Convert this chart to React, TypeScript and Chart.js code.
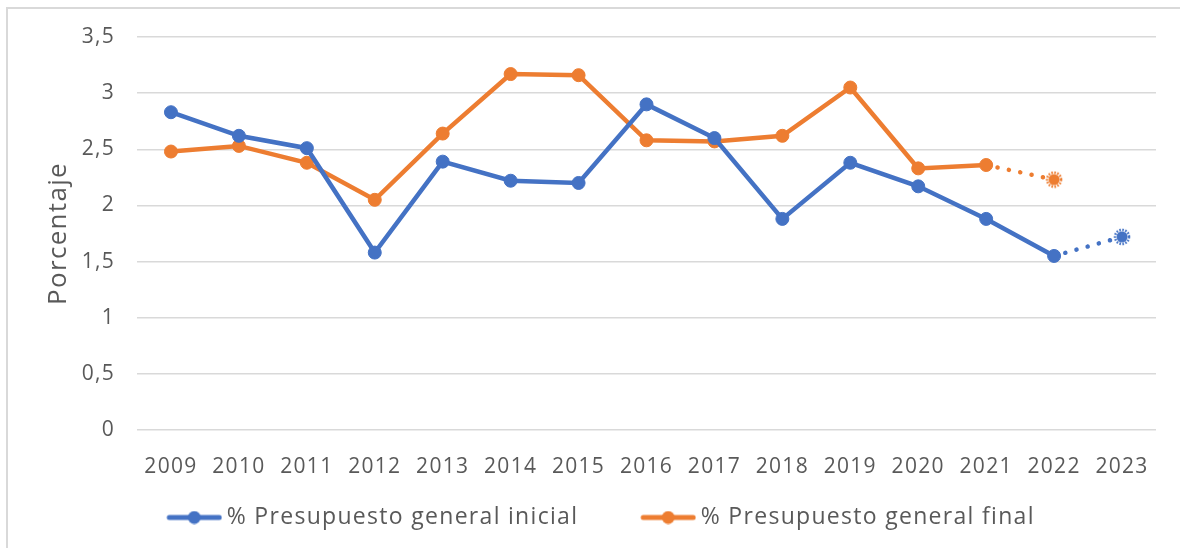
import React, { useEffect, useRef } from "react";
import { Chart, registerables } from "chart.js";

Chart.register(...registerables);

const years = ["2009","2010","2011","2012","2013","2014","2015","2016","2017","2018","2019","2020","2021","2022","2023"];
const inicial = [2.83, 2.62, 2.51, 1.58, 2.39, 2.22, 2.2, 2.9, 2.6, 1.88, 2.38, 2.17, 1.88, 1.55, 1.72];
const final = [2.48, 2.53, 2.38, 2.05, 2.64, 3.17, 3.16, 2.58, 2.57, 2.62, 3.05, 2.33, 2.36, 2.23, null];
const yTicks = [0, 0.5, 1, 1.5, 2, 2.5, 3, 3.5];
const labelInicial = "% Presupuesto general inicial";
const labelFinal = "% Presupuesto general final";

const BLUE = "#4472C4";
const ORANGE = "#ED7D31";
const TEXT = "#595959";
const GRID = "#d9d9d9";
const FONT = "'Open Sans', 'Noto Sans', sans-serif";
const LEGEND_PAD = 55;

function dottedMarker(color: string) {
  const c = document.createElement("canvas");
  c.width = 18; c.height = 18;
  const g = c.getContext("2d")!;
  g.fillStyle = color;
  g.beginPath(); g.arc(9, 9, 5.5, 0, Math.PI * 2); g.fill();
  g.strokeStyle = color; g.lineWidth = 2.5; g.setLineDash([1.6, 1.4]);
  g.beginPath(); g.arc(9, 9, 7, 0, Math.PI * 2); g.stroke();
  return c;
}

function legendIcon(color: string) {
  const d = 7;
  const c = document.createElement("canvas");
  c.width = 56 + 2 * d; c.height = 14;
  const g = c.getContext("2d")!;
  g.strokeStyle = color; g.lineWidth = 5; g.lineCap = "round";
  g.beginPath(); g.moveTo(2 * d + 3, 7); g.lineTo(2 * d + 53, 7); g.stroke();
  g.fillStyle = color;
  g.beginPath(); g.arc(2 * d + 28, 7, 6.5, 0, Math.PI * 2); g.fill();
  return c;
}

const spacingPlugin = {
  id: "letterSpacing",
  afterInit: (ch: any) => {
    const lg = ch.legend;
    if (lg && !lg.__wrapped) {
      const origFit = lg.fit;
      lg.fit = function () {
        origFit.call(this);
        this.height = 54;
      };
      lg.__wrapped = true;
    }
  },
  afterLayout: (ch: any) => {
    const lg = ch.legend;
    if (lg) {
      lg.top = 548 - 54 - (LEGEND_PAD - 12);
      lg.bottom = 548;
      lg.height = lg.bottom - lg.top;
      lg.left = lg.left + 38;
      lg.width = lg.right - lg.left;
    }
  },
  beforeUpdate: (ch: any) => { (ch.ctx as any).letterSpacing = "1.3px"; },
  beforeDraw: (ch: any) => { (ch.ctx as any).letterSpacing = "1.3px"; },
};

export default function App() {
  const ref = useRef<HTMLCanvasElement | null>(null);
  useEffect(() => {
    if (!ref.current) return;
    const lastBlue = inicial.length - 1;
    const lastOrange = final.filter((v) => v !== null).length - 1;
    const blueStyles = inicial.map((_, i) => (i === lastBlue ? dottedMarker(BLUE) : "circle"));
    const orangeStyles = final.map((_, i) => (i === lastOrange ? dottedMarker(ORANGE) : "circle"));
    const icons = [legendIcon(BLUE), legendIcon(ORANGE)];
    const chart = new Chart(ref.current, {
      type: "line",
      plugins: [spacingPlugin],
      data: {
        labels: years,
        datasets: [
          {
            label: labelInicial,
            data: inicial,
            borderColor: BLUE,
            backgroundColor: BLUE,
            borderWidth: 4.5,
            pointRadius: 6.5,
            pointBorderWidth: 1,
            pointStyle: blueStyles as any,
            borderCapStyle: "round",
            segment: {
              borderDash: (ctx: any) => (ctx.p1DataIndex === lastBlue ? [0.1, 11.5] : undefined),
            },
          },
          {
            label: labelFinal,
            data: final,
            borderColor: ORANGE,
            backgroundColor: ORANGE,
            borderWidth: 4.5,
            pointRadius: 6.5,
            pointBorderWidth: 1,
            pointStyle: orangeStyles as any,
            borderCapStyle: "round",
            segment: {
              borderDash: (ctx: any) => (ctx.p1DataIndex === lastOrange ? [0.1, 11.5] : undefined),
            },
          },
        ],
      },
      options: {
        responsive: false,
        animation: false,
        layout: { padding: { top: 37, right: 24, left: 0, bottom: 0 } },
        plugins: {
          tooltip: { enabled: false },
          legend: {
            position: "bottom",
            labels: {
              usePointStyle: true,
              pointStyleWidth: 56,
              color: TEXT,
              font: { family: FONT, size: 23 },
              padding: LEGEND_PAD,
              generateLabels: (ch: any) =>
                ch.data.datasets.map((ds: any, i: number) => ({
                  text: ds.label,
                  fillStyle: ds.borderColor,
                  strokeStyle: ds.borderColor,
                  lineWidth: 0,
                  pointStyle: icons[i],
                  fontColor: TEXT,
                  hidden: false,
                  datasetIndex: i,
                })),
            },
          },
        },
        scales: {
          x: {
            offset: true,
            grid: { display: false },
            border: { display: false },
            ticks: { color: TEXT, font: { family: FONT, size: 21 }, padding: 16, maxRotation: 0, autoSkip: false },
            afterFit: (s: any) => { s.height = 64; },
          },
          y: {
            min: 0,
            max: 3.5,
            afterBuildTicks: (s: any) => { s.ticks = yTicks.map((v) => ({ value: v })); },
            grid: { color: GRID, lineWidth: 1.5, drawTicks: false },
            border: { display: false },
            ticks: {
              color: TEXT,
              font: { family: FONT, size: 21 },
              padding: 22,
              callback: (v: any) => String(v).replace(".", ","),
            },
            title: {
              display: true,
              text: "Porcentaje",
              color: TEXT,
              font: { family: FONT, size: 26 },
              padding: { top: 43, bottom: 0 },
            },
            afterFit: (s: any) => { s.width = 137; },
          },
        },
      },
    });
    return () => chart.destroy();
  }, []);
  return (
    <div style={{ position: "absolute", left: 0, top: 0, width: 1180, height: 548, background: "#fff" }}>
      <div style={{ position: "absolute", left: 6, top: 7, width: 1180, height: 548, borderTop: `2px solid ${GRID}`, borderLeft: `2px solid ${GRID}`, boxSizing: "border-box" }} />
      <canvas ref={ref} width={1180} height={548} style={{ position: "absolute", left: 0, top: 0 }} />
    </div>
  );
}
